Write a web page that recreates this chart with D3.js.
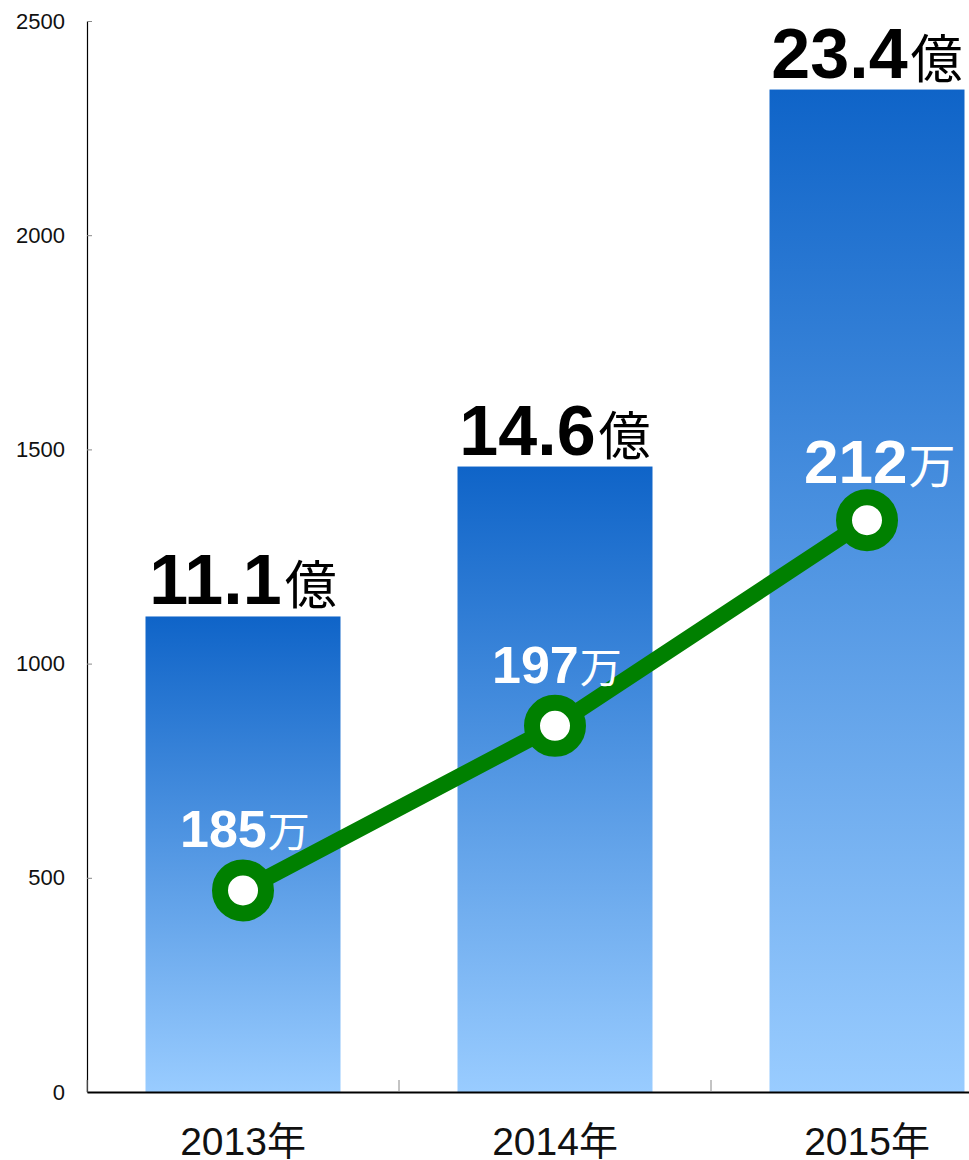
<!DOCTYPE html>
<html><head><meta charset="utf-8">
<script src="https://cdn.jsdelivr.net/npm/d3@7"></script>
<style>body{margin:0;background:#fff;}svg{display:block;}</style>
</head><body>
<svg id="c" width="969" height="1160"></svg>
<script>
const categories = ["2013年", "2014年", "2015年"];
const revenue = [1110, 1460, 2340];          // bar values (百万)
const revenueLabels = ["11.1", "14.6", "23.4"];
const users = [185, 197, 212];               // line values (万)
const yTicks = [0, 500, 1000, 1500, 2000, 2500];

(function () {
const userLabelSize = [52, 52, 62];
const userUnitSize = [42, 42, 47];
const svg = d3.select("#c");
const mLeft = 87, mTop = 21, mBottom = 1092, mRight = 1023;
const x = d3.scaleBand().domain(categories).range([mLeft, mRight]).padding(0);
const y = d3.scaleLinear().domain([0, 2500]).range([mBottom, mTop]);
const y2 = d3.scaleLinear().domain([170.3, 248.4]).range([mBottom, mTop]);
const barW = x.bandwidth() * 0.625;
const latin = "'Liberation Sans', Arial, sans-serif";
const cjk = "'Noto Sans CJK JP', sans-serif";

const defs = svg.append("defs");
const g = defs.append("linearGradient").attr("id", "bg").attr("x1", 0).attr("y1", 0).attr("x2", 0).attr("y2", 1);
g.append("stop").attr("offset", "0%").attr("stop-color", "#0f64c8");
g.append("stop").attr("offset", "100%").attr("stop-color", "#99ccff");

// bars
svg.selectAll("rect.bar").data(revenue).join("rect").attr("class", "bar")
  .attr("x", (d, i) => x(categories[i]) + (x.bandwidth() - barW) / 2)
  .attr("width", barW)
  .attr("y", d => y(d))
  .attr("height", d => y(0) - y(d))
  .attr("fill", "url(#bg)");

// y axis
const yAxis = svg.append("g").attr("transform", `translate(${mLeft},0)`)
  .call(d3.axisLeft(y).tickValues(yTicks).tickSize(0).tickPadding(22).tickFormat(d3.format("d")));
yAxis.select(".domain").attr("stroke", "#000").attr("stroke-width", 1.2);
yAxis.selectAll("text").attr("font-family", latin).attr("font-size", 22).attr("fill", "#111");
yAxis.selectAll(".tick").append("line").attr("x1", 0).attr("x2", 5).attr("stroke", "#888");

// x axis
const xAxis = svg.append("g").attr("transform", `translate(0,${mBottom})`)
  .call(d3.axisBottom(x).tickSize(0).tickPadding(35));
xAxis.select(".domain").attr("stroke", "#000").attr("stroke-width", 2);
xAxis.selectAll("text").attr("font-family", latin + ",'Noto Sans CJK JP'").attr("font-size", 39).attr("fill", "#111");
svg.append("g").selectAll("line").data(categories.map((c, i) => i)).join("line")
  .attr("x1", i => x(categories[i]))
  .attr("x2", i => x(categories[i]))
  .attr("y1", mBottom).attr("y2", mBottom - 12)
  .attr("stroke", "#888").attr("stroke-width", 1);

// bar labels
const bl = svg.selectAll("text.bl").data(revenue).join("text").attr("class", "bl")
  .attr("x", (d, i) => x(categories[i]) + x.bandwidth() / 2)
  .attr("y", d => y(d) - 12)
  .attr("text-anchor", "middle").attr("fill", "#000");
bl.append("tspan").attr("font-family", latin).attr("font-weight", "bold").attr("font-size", 70)
  .text((d, i) => revenueLabels[i]);
bl.append("tspan").attr("font-family", cjk).attr("font-size", 52).attr("dx", 3).text("億");

// line
const pts = users.map((u, i) => [x(categories[i]) + x.bandwidth() / 2, y2(u)]);
svg.append("path").attr("d", d3.line()(pts)).attr("fill", "none")
  .attr("stroke", "#008000").attr("stroke-width", 16);
svg.selectAll("circle.pt").data(pts).join("circle").attr("class", "pt")
  .attr("cx", d => d[0]).attr("cy", d => d[1]).attr("r", 23)
  .attr("fill", "#fff").attr("stroke", "#008000").attr("stroke-width", 16);

// line labels
const ll = svg.selectAll("text.ll").data(users).join("text").attr("class", "ll")
  .attr("x", (d, i) => pts[i][0] - 63)
  .attr("y", (d, i) => pts[i][1] - (i === 2 ? 37 : 43))
  .attr("text-anchor", "start").attr("fill", "#fff");
ll.append("tspan").attr("font-family", latin).attr("font-weight", "bold")
  .attr("font-size", (d, i) => userLabelSize[i]).text(d => d);
ll.append("tspan").attr("font-family", cjk).attr("font-size", (d, i) => userUnitSize[i]).attr("dx", 1).text("万");
})();
</script>
</body></html>
